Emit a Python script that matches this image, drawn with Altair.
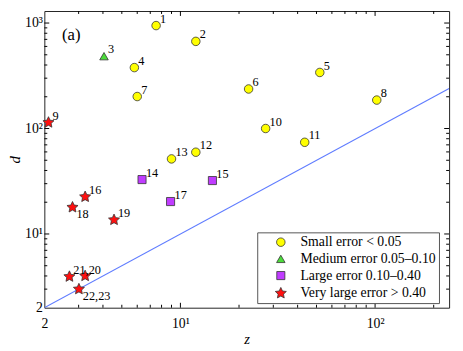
import math
import altair as alt
import pandas as pd

# ---- data ----
point_labels = ["1", "2", "3", "4", "5", "6", "7", "8", "9", "10", "11", "12",
                "13", "14", "15", "16", "17", "18", "19", "", "21,20", "22,23"]
z_vals = [7.5, 12.0, 4.05, 5.8, 52.0, 22.4, 6.0, 102.0, 2.1, 27.4, 43.5, 12.0,
          9.0, 6.35, 14.6, 3.24, 8.9, 2.79, 4.56, 3.24, 2.69, 3.01]
d_vals = [946, 670, 485, 378, 340, 237, 201, 186, 114, 100, 74, 59.6,
          51.5, 32.8, 32.1, 22.5, 20.3, 17.9, 13.6, 4.0, 3.94, 3.0]
classes = ["Small error < 0.05", "Medium error 0.05–0.10",
           "Large error 0.10–0.40", "Very large error > 0.40"]
point_class = [0, 0, 1, 0, 0, 0, 0, 0, 3, 0, 0, 0,
               0, 2, 2, 3, 2, 3, 3, 3, 3, 3]
below_labels = ["18", "22,23"]

line_z = [2, 240]
line_d = [2, 240]

x_tick_values = [2, 10, 100]
x_tick_texts = ["2", "10¹", "10²"]
y_tick_values = [2, 10, 100, 1000]
y_tick_texts = ["2", "10¹", "10²", "10³"]
x_major = [10, 100]
x_minor = [3, 4, 5, 6, 7, 8, 9, 20, 30, 40, 50, 60, 70, 80, 90, 200]
y_major = [10, 100, 1000]
y_minor = [3, 4, 5, 6, 7, 8, 9, 20, 30, 40, 50, 60, 70, 80, 90,
           200, 300, 400, 500, 600, 700, 800, 900]

panel_z = [2.75]
panel_d = [770]
panel_text = ["(a)"]

# ---- styles ----
W, H = 412, 302
FONT = "Liberation Serif"
class_colors = ["#ffff00", "#4cdc3a", "#c03cff", "#ff1010"]


def star_path(r_in=0.48):
    pts = []
    for k in range(10):
        ang = math.radians(-90 + 36 * k)
        r = 1.0 if k % 2 == 0 else r_in
        pts.append((r * math.cos(ang), r * math.sin(ang)))
    return "M" + " L".join(f"{x:.4f} {y:.4f}" for x, y in pts) + " Z"


class_shapes = ["circle", "triangle-up", "square", star_path()]
class_sizes = [75, 75, 68, 140]

df = pd.DataFrame({
    "z": z_vals, "d": d_vals, "label": point_labels,
    "cls": [classes[i] for i in point_class],
})
line_df = pd.DataFrame({"z": line_z, "d": line_d})


def label_expr(vals, texts):
    expr = f"'{texts[-1]}'"
    for v, t in reversed(list(zip(vals[:-1], texts[:-1]))):
        expr = f"datum.value == {v} ? '{t}' : " + expr
    return expr


def one_of_expr(vals):
    return "indexof([" + ",".join(f"'{v}'" for v in vals) + "], datum.label) >= 0"


xs = alt.Scale(type="log", domain=[2, 240], nice=False, zero=False)
ys = alt.Scale(type="log", domain=[2, 1300], nice=False, zero=False)
xaxis = alt.Axis(values=x_tick_values, labelExpr=label_expr(x_tick_values, x_tick_texts),
                 ticks=False, grid=False, domain=False, labelFont=FONT, labelFontSize=14,
                 labelPadding=9, labelFlush=False, labelOverlap=False, labelColor="black",
                 title="z", titleFont=FONT, titleFontStyle="italic", titleFontWeight="normal",
                 titleFontSize=15, titlePadding=1, titleColor="black")
yaxis = alt.Axis(values=y_tick_values, labelExpr=label_expr(y_tick_values, y_tick_texts),
                 ticks=False, grid=False, domain=False, labelFont=FONT, labelFontSize=14,
                 labelPadding=2, labelFlush=False, labelOverlap=False, labelColor="black",
                 title="d", titleFont=FONT, titleFontStyle="italic", titleFontWeight="normal",
                 titleFontSize=15, titlePadding=2, titleColor="black")


def X(field):
    return alt.X(field, type="quantitative", scale=xs, axis=xaxis)


def Y(field):
    return alt.Y(field, type="quantitative", scale=ys, axis=yaxis)


line = alt.Chart(line_df).mark_line(color="#5f7cff", strokeWidth=1.1, clip=True).encode(
    x=X("z"), y=Y("d"))

points = alt.Chart(df).mark_point(filled=True, stroke="#333333", strokeWidth=0.8,
                                  opacity=1).encode(
    x=X("z"), y=Y("d"),
    color=alt.Color("cls:N", scale=alt.Scale(domain=classes, range=class_colors),
                    legend=alt.Legend(orient="none", legendX=216.7, legendY=225.3, title=None,
                                      padding=3, symbolOffset=14, labelOffset=13, rowPadding=3,
                                      labelFont=FONT, labelFontSize=14, labelLimit=400,
                                      labelColor="black",
                                      strokeColor="#555555", fillColor="white",
                                      symbolStrokeColor="#333333", symbolStrokeWidth=0.8)),
    shape=alt.Shape("cls:N", scale=alt.Scale(domain=classes, range=class_shapes)),
    size=alt.Size("cls:N", scale=alt.Scale(type="ordinal", domain=classes, range=class_sizes)),
)

labels_up = alt.Chart(df).transform_filter(
    f"datum.label != '' && !({one_of_expr(below_labels)})"
).mark_text(align="left", baseline="alphabetic", dx=4, dy=-3, fontSize=12.5, font=FONT,
            color="black").encode(x=X("z"), y=Y("d"), text="label:N")

labels_down = alt.Chart(df).transform_filter(
    one_of_expr(below_labels)
).mark_text(align="left", baseline="top", dx=4, dy=1, fontSize=12.5, font=FONT,
            color="black").encode(x=X("z"), y=Y("d"), text="label:N")

panel = alt.Chart(pd.DataFrame({"z": panel_z, "d": panel_d, "t": panel_text})).mark_text(
    fontSize=17, font=FONT, color="black").encode(x=X("z"), y=Y("d"), text="t:N")


def tick_layer(vals, axis_, edge, length):
    tdf = pd.DataFrame({"v": vals})
    base = alt.Chart(tdf).mark_rule(color="black", strokeWidth=1)
    if axis_ == "x":
        y0 = H if edge == "start" else 0
        y1 = H - length if edge == "start" else length
        return base.encode(x=X("v"), y=alt.value(y0), y2=alt.value(y1))
    x0 = 0 if edge == "start" else W
    x1 = length if edge == "start" else W - length
    return base.encode(y=Y("v"), x=alt.value(x0), x2=alt.value(x1))


ticks = []
for edge in ["start", "end"]:
    ticks.append(tick_layer(x_major, "x", edge, 5))
    ticks.append(tick_layer(x_minor, "x", edge, 3))
    ticks.append(tick_layer(y_major, "y", edge, 5))
    ticks.append(tick_layer(y_minor, "y", edge, 3))

chart = alt.layer(line, *ticks, points, labels_up, labels_down, panel).properties(
    width=W, height=H,
    autosize=alt.AutoSizeParams(type="none"),
    padding={"left": 37, "top": 0, "right": 6, "bottom": 41},
).configure(font=FONT).configure_view(stroke="#222222", strokeWidth=1)

chart.save("out.html", embed_options={"renderer": "svg", "actions": False})
